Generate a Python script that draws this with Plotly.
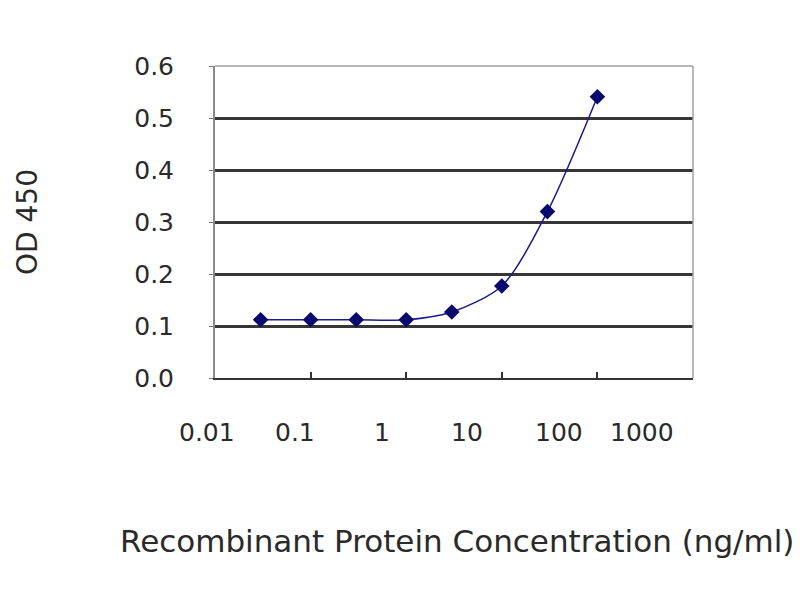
import plotly.graph_objects as go
import math

# Data
concentration = [0.03, 0.1, 0.3, 1, 3, 10, 30, 100]
od450 = [0.112, 0.112, 0.112, 0.112, 0.127, 0.177, 0.320, 0.541]
x_tick_values = [0.01, 0.1, 1, 10, 100, 1000]
x_tick_labels = ["0.01", "0.1", "1", "10", "100", "1000"]
y_tick_values = [0.0, 0.1, 0.2, 0.3, 0.4, 0.5, 0.6]
x_title = "Recombinant Protein Concentration (ng/ml)"
y_title = "OD 450"

FONT = "DejaVu Sans"
TXT = "#2a2a2a"

fig = go.Figure()
fig.add_trace(go.Scatter(
    x=concentration, y=od450, mode="lines+markers",
    line=dict(color="#1a1a8c", width=1.5, shape="spline", smoothing=0.8),
    marker=dict(symbol="diamond", size=12, color="#0a0a6e"),
    showlegend=False,
))

# x tick labels drawn as text, shifted as in the reference
label_shifts = [-8, -16, -24, -35, -38, -51]
annotations = []
for v, lab, sh in zip(x_tick_values, x_tick_labels, label_shifts):
    annotations.append(dict(
        x=math.log10(v), xref="x", y=0, yref="paper", yshift=-54, xshift=sh,
        text=lab, showarrow=False, yanchor="middle", xanchor="center",
        font=dict(family=FONT, size=25, color=TXT),
    ))
annotations.append(dict(
    x=0.5, xref="paper", y=0, yref="paper", yshift=-163, xshift=3,
    text=x_title, showarrow=False, yanchor="middle", xanchor="center",
    font=dict(family=FONT, size=31, color=TXT),
))
annotations.append(dict(
    x=0, xref="paper", y=0.5, yref="paper", xshift=-188,
    text=y_title, showarrow=False, yanchor="middle", xanchor="center",
    textangle=-90, font=dict(family=FONT, size=28, color=TXT),
))

fig.update_layout(
    width=800, height=600,
    margin=dict(l=207, r=115, t=58, b=230, autoexpand=False),
    paper_bgcolor="white", plot_bgcolor="white",
    annotations=annotations,
    xaxis=dict(
        type="log", range=[-2, 3], automargin=False,
        tickvals=x_tick_values, showticklabels=False,
        ticks="inside", ticklen=6, tickcolor="#333", tickwidth=1.5,
        showgrid=False, zeroline=False,
        showline=True, linecolor="#333", linewidth=2,
    ),
    yaxis=dict(
        range=[0, 0.6], tickvals=y_tick_values, tickformat=".1f",
        automargin=False,
        ticks="outside", ticklen=4, tickcolor="#777",
        ticklabelstandoff=30,
        tickfont=dict(family=FONT, size=25, color=TXT),
        showgrid=True, gridcolor="#363636", gridwidth=2.5,
        zeroline=False,
        showline=True, linecolor="#8a8a8a", linewidth=2,
    ),
    shapes=[
        dict(type="line", xref="paper", yref="paper", x0=0, x1=1, y0=1, y1=1,
             line=dict(color="#a0a0a0", width=1.5)),
        dict(type="line", xref="paper", yref="paper", x0=1, x1=1, y0=0, y1=1,
             line=dict(color="#a0a0a0", width=1.5)),
    ],
)

fig.write_html("out.html")
